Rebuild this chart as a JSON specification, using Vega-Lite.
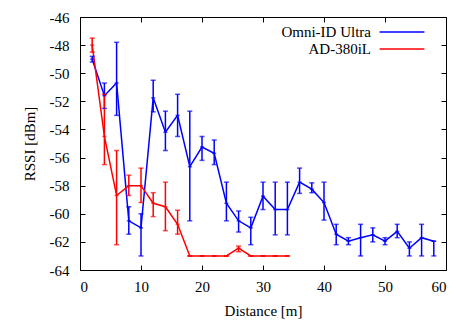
{
  "$schema": "https://vega.github.io/schema/vega-lite/v6.json",
  "width": 366,
  "height": 253,
  "autosize": "none",
  "padding": {"left": 80, "top": 17, "right": 10, "bottom": 53},
  "background": "white",
  "config": {
    "view": {"stroke": "black", "strokeWidth": 1},
    "axis": {"grid": false, "tickColor": "black", "tickWidth": 1, "domain": false, "tickSize": -5},
    "axisX": {"labelFont": "Liberation Serif", "labelFontSize": 15, "labelColor": "black", "labelAngle": 0, "titleFont": "Liberation Serif", "titleFontSize": 15, "titleFontWeight": "normal", "titleColor": "black"},
    "axisY": {"labelFont": "Liberation Serif", "labelFontSize": 15, "labelColor": "black", "labelAngle": 0, "titleFont": "Liberation Serif", "titleFontSize": 15, "titleFontWeight": "normal", "titleColor": "black"}
  },
  "data": {"values": [
    {"s": "Omni-ID Ultra", "d": 2, "r": -49.0, "lo": -49.2, "hi": -48.8},
    {"s": "Omni-ID Ultra", "d": 4, "r": -51.6, "lo": -52.5, "hi": -50.7},
    {"s": "Omni-ID Ultra", "d": 6, "r": -50.7, "lo": -53.0, "hi": -47.8},
    {"s": "Omni-ID Ultra", "d": 8, "r": -60.5, "lo": -61.45, "hi": -59.5},
    {"s": "Omni-ID Ultra", "d": 10, "r": -61.0, "lo": -63.0, "hi": -60.0},
    {"s": "Omni-ID Ultra", "d": 12, "r": -51.75, "lo": -52.75, "hi": -50.5},
    {"s": "Omni-ID Ultra", "d": 14, "r": -54.2, "lo": -55.5, "hi": -52.7},
    {"s": "Omni-ID Ultra", "d": 16, "r": -53.0, "lo": -54.5, "hi": -51.5},
    {"s": "Omni-ID Ultra", "d": 18, "r": -56.65, "lo": -60.5, "hi": -52.7},
    {"s": "Omni-ID Ultra", "d": 20, "r": -55.25, "lo": -56.2, "hi": -54.5},
    {"s": "Omni-ID Ultra", "d": 22, "r": -55.7, "lo": -56.5, "hi": -54.75},
    {"s": "Omni-ID Ultra", "d": 24, "r": -59.25, "lo": -60.5, "hi": -57.75},
    {"s": "Omni-ID Ultra", "d": 26, "r": -60.5, "lo": -61.3, "hi": -59.8},
    {"s": "Omni-ID Ultra", "d": 28, "r": -61.0, "lo": -62.2, "hi": -60.25},
    {"s": "Omni-ID Ultra", "d": 30, "r": -58.75, "lo": -59.7, "hi": -57.75},
    {"s": "Omni-ID Ultra", "d": 32, "r": -59.7, "lo": -61.5, "hi": -57.75},
    {"s": "Omni-ID Ultra", "d": 34, "r": -59.7, "lo": -61.5, "hi": -57.75},
    {"s": "Omni-ID Ultra", "d": 36, "r": -57.75, "lo": -58.55, "hi": -56.75},
    {"s": "Omni-ID Ultra", "d": 38, "r": -58.25, "lo": -58.5, "hi": -57.8},
    {"s": "Omni-ID Ultra", "d": 40, "r": -59.2, "lo": -60.45, "hi": -57.75},
    {"s": "Omni-ID Ultra", "d": 42, "r": -61.45, "lo": -62.2, "hi": -60.75},
    {"s": "Omni-ID Ultra", "d": 44, "r": -61.95, "lo": -62.2, "hi": -61.7},
    {"s": "Omni-ID Ultra", "d": 46, "r": -61.7, "lo": -63.0, "hi": -60.75},
    {"s": "Omni-ID Ultra", "d": 48, "r": -61.5, "lo": -62.0, "hi": -61.0},
    {"s": "Omni-ID Ultra", "d": 50, "r": -61.95, "lo": -62.2, "hi": -61.7},
    {"s": "Omni-ID Ultra", "d": 52, "r": -61.25, "lo": -61.7, "hi": -60.75},
    {"s": "Omni-ID Ultra", "d": 54, "r": -62.45, "lo": -63.0, "hi": -62.0},
    {"s": "Omni-ID Ultra", "d": 56, "r": -61.7, "lo": -63.0, "hi": -60.75},
    {"s": "Omni-ID Ultra", "d": 58, "r": -61.95, "lo": -63.0, "hi": -61.95},
    {"s": "AD-380iL", "d": 2, "r": -48.0, "lo": -48.5, "hi": -47.5},
    {"s": "AD-380iL", "d": 4, "r": -54.5, "lo": -56.5, "hi": -51.5},
    {"s": "AD-380iL", "d": 6, "r": -58.7, "lo": -62.2, "hi": -55.5},
    {"s": "AD-380iL", "d": 8, "r": -58.0, "lo": -58.7, "hi": -57.25},
    {"s": "AD-380iL", "d": 10, "r": -58.0, "lo": -59.2, "hi": -56.75},
    {"s": "AD-380iL", "d": 12, "r": -59.25, "lo": -60.2, "hi": -58.5},
    {"s": "AD-380iL", "d": 14, "r": -59.5, "lo": -61.2, "hi": -57.75},
    {"s": "AD-380iL", "d": 16, "r": -60.75, "lo": -61.45, "hi": -59.75},
    {"s": "AD-380iL", "d": 18, "r": -63.0, "lo": -63.0, "hi": -63.0},
    {"s": "AD-380iL", "d": 20, "r": -63.0, "lo": -63.0, "hi": -63.0},
    {"s": "AD-380iL", "d": 22, "r": -63.0, "lo": -63.0, "hi": -63.0},
    {"s": "AD-380iL", "d": 24, "r": -63.0, "lo": -63.0, "hi": -63.0},
    {"s": "AD-380iL", "d": 26, "r": -62.45, "lo": -62.7, "hi": -62.3},
    {"s": "AD-380iL", "d": 28, "r": -63.0, "lo": -63.0, "hi": -63.0},
    {"s": "AD-380iL", "d": 30, "r": -63.0, "lo": -63.0, "hi": -63.0},
    {"s": "AD-380iL", "d": 32, "r": -63.0, "lo": -63.0, "hi": -63.0},
    {"s": "AD-380iL", "d": 34, "r": -63.0, "lo": -63.0, "hi": -63.0}
  ]},
  "resolve": {"axis": {"x": "independent", "y": "independent"}},
  "layer": [
    {
      "mark": {"type": "line", "strokeWidth": 1.5},
      "encoding": {
        "x": {"field": "d", "type": "quantitative", "scale": {"domain": [0, 60], "nice": false}, "axis": {"orient": "bottom", "values": [0, 10, 20, 30, 40, 50, 60], "title": "Distance [m]", "labelPadding": 14, "titlePadding": 9, "labelFont": "Liberation Serif", "labelFontSize": 15, "labelColor": "black", "labelAngle": 0}},
        "y": {"field": "r", "type": "quantitative", "scale": {"domain": [-64, -46], "nice": false, "zero": false}, "axis": {"orient": "left", "values": [-64, -62, -60, -58, -56, -54, -52, -50, -48, -46], "title": "RSSI [dBm]", "labelPadding": 16, "titlePadding": 12, "labelExpr": "'-' + abs(datum.value)", "labelFont": "Liberation Serif", "labelFontSize": 15, "labelColor": "black", "labelAngle": 0}},
        "color": {"field": "s", "type": "nominal", "sort": ["Omni-ID Ultra", "AD-380iL"], "scale": {"domain": ["Omni-ID Ultra", "AD-380iL"], "range": ["#0000ff", "#ff0000"]},
          "legend": {"title": null, "orient": "none", "legendX": 313, "legendY": 6, "symbolType": "M-2.8,0H2.8", "symbolSize": 256, "symbolStrokeWidth": 1.5, "labelAlign": "right", "labelOffset": -40, "labelFont": "Liberation Serif", "labelFontSize": 15, "labelColor": "black", "rowPadding": 0}}
      }
    },
    {
      "mark": {"type": "rule", "strokeWidth": 1.5},
      "encoding": {
        "x": {"field": "d", "type": "quantitative", "axis": {"orient": "top", "values": [0, 10, 20, 30, 40, 50, 60], "labels": false, "title": null}},
        "y": {"field": "lo", "type": "quantitative", "axis": {"orient": "right", "values": [-64, -62, -60, -58, -56, -54, -52, -50, -48, -46], "labels": false, "title": null}},
        "y2": {"field": "hi"},
        "color": {"field": "s", "type": "nominal", "legend": null}
      }
    },
    {
      "mark": {"type": "tick", "orient": "horizontal", "size": 5, "thickness": 1.5},
      "encoding": {
        "x": {"field": "d", "type": "quantitative", "axis": null},
        "y": {"field": "lo", "type": "quantitative", "axis": null},
        "color": {"field": "s", "type": "nominal", "legend": null}
      }
    },
    {
      "mark": {"type": "tick", "orient": "horizontal", "size": 5, "thickness": 1.5},
      "encoding": {
        "x": {"field": "d", "type": "quantitative", "axis": null},
        "y": {"field": "hi", "type": "quantitative", "axis": null},
        "color": {"field": "s", "type": "nominal", "legend": null}
      }
    },
    {
      "mark": {"type": "tick", "orient": "horizontal", "size": 4, "thickness": 1.5},
      "encoding": {
        "x": {"field": "d", "type": "quantitative", "axis": null},
        "y": {"field": "r", "type": "quantitative", "axis": null},
        "color": {"field": "s", "type": "nominal", "legend": null}
      }
    }
  ]
}
